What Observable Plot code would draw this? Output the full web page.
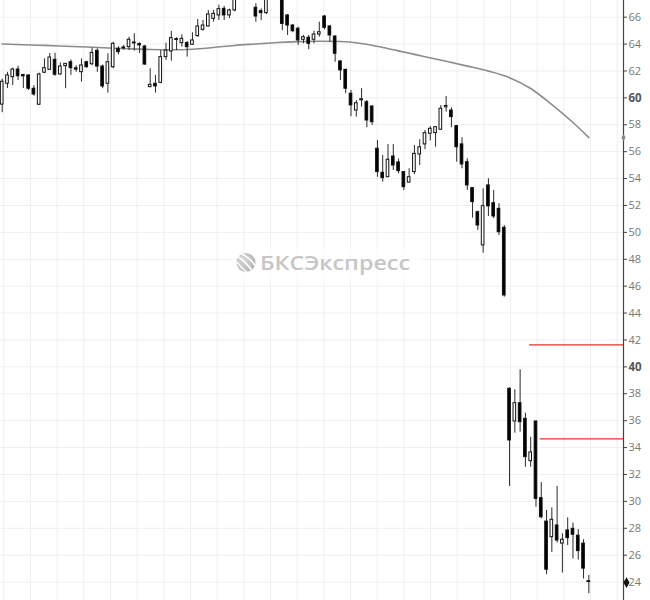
<!DOCTYPE html>
<html>
<head>
<meta charset="utf-8">
<script src="https://cdn.jsdelivr.net/npm/d3@7"></script>
<script src="https://cdn.jsdelivr.net/npm/@observablehq/plot@0.6"></script>
<style>
  html, body { margin: 0; padding: 0; background: #fff; overflow: hidden; }
  #chart svg { display: block; }
</style>
</head>
<body>
<div id="chart"></div>
<script>
// ---- Data ----
const opens = [
  59.5, 61.05, 61.54, 62.11, 61.7, 61.67, 60.68, 59.49, 61.87, 62.09,
  62.83, 61.74, 62.36, 62.65, 62.2, 61.91, 62.65, 62.5, 63.5, 62.33,
  61.05, 62.28, 63.65, 63.68, 63.77, 64.05, 64.0, 63.82, 60.8, 61.05,
  61.12, 63.03, 63.45, 64.3, 64.07, 64.07, 63.95, 64.59, 65.06, 65.31,
  65.88, 66.13, 66.62, 66.13, 66.5, 67.6, 68.2, 68.8, 66.7, 66.45,
  66.3, 67.6, 68.3, 67.8, 66.13, 65.38, 65.14, 64.32, 64.47, 64.32,
  64.71, 66.05, 65.31, 64.56, 62.71, 62.09, 60.31, 59.06, 59.82, 59.68,
  59.36, 56.22, 54.43, 54.1, 55.64, 55.2, 54.48, 53.7, 54.48, 55.79,
  56.54, 57.33, 57.38, 57.63, 59.3, 59.06, 57.9, 56.54, 55.22, 53.29,
  51.5, 49.03, 53.49, 52.17, 51.75, 50.34, 38.37, 35.94, 37.3, 36.14,
  32.99, 35.94, 30.24, 28.5, 27.34, 28.21, 26.86, 27.84, 27.96, 27.45,
  26.86, 24.0
];
const highs = [
  61.4, 61.9, 62.21, 62.36, 61.75, 61.67, 60.92, 61.84, 62.9, 63.3,
  63.32, 62.6, 62.55, 62.83, 62.4, 62.9, 62.72, 63.7, 63.65, 62.45,
  63.28, 64.14, 63.8, 63.9, 64.51, 64.77, 64.1, 63.9, 62.16, 61.67,
  63.52, 64.07, 64.94, 64.47, 64.69, 64.2, 64.84, 65.83, 65.75, 66.5,
  66.5, 66.9, 66.8, 66.6, 68.0, 68.5, 69.0, 69.2, 67.0, 66.62,
  68.0, 68.6, 68.5, 68.0, 66.2, 65.46, 65.26, 64.64, 64.64, 64.96,
  65.63, 66.13, 65.38, 64.64, 62.75, 62.1, 60.55, 59.8, 60.68, 59.8,
  59.4, 56.83, 55.72, 56.53, 56.53, 55.45, 54.5, 54.73, 56.46, 56.88,
  57.58, 57.87, 57.87, 59.43, 60.1, 59.26, 57.95, 57.03, 55.47, 53.3,
  51.58, 53.24, 53.99, 53.12, 52.13, 50.51, 38.45, 38.3, 39.78, 36.56,
  34.77, 35.96, 31.4, 29.33, 29.52, 31.11, 27.59, 28.78, 28.38, 27.9,
  27.15, 24.49
];
const lows = [
  58.9, 60.7, 60.92, 61.29, 60.7, 60.55, 60.13, 59.44, 61.8, 62.04,
  61.61, 61.7, 60.68, 61.67, 61.9, 61.17, 62.2, 62.4, 61.91, 60.68,
  60.35, 62.16, 63.2, 63.55, 63.52, 63.47, 63.3, 62.41, 60.75, 60.35,
  61.05, 62.78, 62.73, 63.52, 63.77, 63.03, 63.9, 64.51, 64.96, 65.26,
  65.63, 65.75, 65.75, 65.9, 66.4, 67.3, 67.8, 67.5, 65.63, 65.75,
  66.2, 67.4, 67.5, 65.0, 64.64, 64.84, 63.9, 64.02, 63.58, 64.02,
  64.51, 65.06, 64.14, 62.65, 61.29, 60.31, 58.6, 58.57, 59.31, 57.78,
  57.95, 54.1, 53.73, 54.1, 54.6, 54.35, 53.12, 53.68, 54.3, 54.97,
  56.14, 56.8, 56.33, 57.58, 58.94, 57.78, 55.22, 54.73, 53.12, 51.06,
  50.14, 48.45, 51.18, 51.01, 49.77, 45.18, 31.11, 35.07, 35.15, 32.54,
  32.54, 29.57, 28.7, 24.55, 26.2, 26.9, 24.67, 26.72, 25.72, 25.64,
  24.23, 23.13
];
const closes = [
  61.2, 61.67, 62.11, 61.61, 61.6, 60.68, 60.25, 61.74, 62.21, 63.0,
  61.72, 62.33, 62.53, 62.21, 62.1, 62.41, 62.28, 63.35, 62.33, 60.85,
  62.65, 64.02, 63.4, 63.72, 64.32, 64.1, 63.9, 62.48, 60.97, 60.85,
  63.03, 63.52, 64.44, 64.36, 64.39, 63.77, 64.27, 65.31, 65.38, 66.2,
  66.25, 66.6, 66.13, 66.5, 67.5, 68.2, 68.8, 68.0, 66.05, 66.3,
  67.5, 68.3, 67.9, 65.5, 65.38, 64.96, 64.27, 64.51, 64.02, 64.71,
  64.88, 65.21, 64.64, 63.28, 62.04, 60.68, 59.44, 59.6, 59.9, 58.32,
  58.19, 54.48, 54.03, 55.4, 54.97, 54.55, 53.36, 54.1, 55.84, 56.33,
  57.38, 57.7, 57.82, 59.19, 59.4, 58.57, 56.33, 55.05, 53.49, 52.25,
  50.51, 51.95, 51.93, 51.18, 50.01, 45.31, 34.53, 37.3, 35.89, 33.29,
  33.64, 30.19, 28.82, 24.92, 28.63, 27.09, 27.15, 27.27, 27.52, 26.3,
  25.0, 23.96
];

// Moving average, sampled at these candle indices
const maIndex = [0, 4, 8, 12, 16, 20, 24, 28, 32, 36, 40, 44, 48, 52, 56, 60, 64, 68, 72, 76, 80, 84, 88, 92, 96, 100, 104, 108, 111];
const maValues = [64.01, 63.95, 63.9, 63.84, 63.78, 63.71, 63.65, 63.6, 63.58, 63.62, 63.75, 63.9, 64.01, 64.12, 64.18, 64.21, 64.19, 64.04, 63.75, 63.41, 63.06, 62.72, 62.36, 61.99, 61.5, 60.7, 59.5, 58.17, 57.05];

// Horizontal red levels
const levelPrices = [41.63, 34.64];
const levelStarts = [99.8, 101.8];

// Axis tick labels
const yTicks = [24, 26, 28, 30, 32, 34, 36, 38, 40, 42, 44, 46, 48, 50, 52, 54, 56, 58, 60, 62, 64, 66];
const boldTicks = [40, 60];

// ---- Build tables ----
const candles = opens.map((o, i) => ({i, o, h: highs[i], l: lows[i], c: closes[i]}));
const ma = maIndex.map((i, k) => ({i, v: maValues[k]}));
const xMin = -0.32, xMax = 117.56;
const levels = levelPrices.map((p, k) => ({p, from: levelStarts[k], to: xMax}));
const gridX = d3.range(0, 24).map(k => (616.7 - 26.67 * k - 1.7) / 5.285).filter(v => v > xMin);
const last = candles[candles.length - 1];

const bodyTop = d => (Math.abs(d.c - d.o) < 0.07 ? d.o + 0.07 : d.c);

const chart = Plot.plot({
  width: 650,
  height: 600,
  marginLeft: 0,
  marginRight: 27,
  marginTop: 0,
  marginBottom: 0,
  style: {background: "white", fontFamily: "'Open Sans', sans-serif"},
  x: {domain: [xMin, xMax], axis: null},
  y: {domain: [22.63, 67.24], axis: null},
  marks: [
    Plot.ruleY(yTicks, {stroke: "#efefef", strokeWidth: 1}),
    Plot.ruleX(gridX, {stroke: "#efefef", strokeWidth: 1}),
    Plot.line(ma, {x: "i", y: "v", stroke: "#8c8c8c", strokeWidth: 1.6, curve: "monotone-x"}),
    Plot.ruleX(candles, {x: "i", y1: "l", y2: "h", stroke: "#2a2a2a", strokeWidth: 1, clip: true}),
    Plot.rect(candles, {
      x1: d => d.i - 0.25, x2: d => d.i + 0.25,
      y1: "o", y2: bodyTop,
      fill: d => (d.c > d.o ? "white" : "black"),
      stroke: "#111", strokeWidth: 1, clip: true
    }),
    Plot.ruleY(levels, {y: "p", x1: "from", x2: "to", stroke: "#e8302a", strokeWidth: 1.2}),
    Plot.ruleX([xMax], {stroke: "#444", strokeWidth: 1.2}),
    Plot.axisY(yTicks.filter(v => !boldTicks.includes(v)), {
      anchor: "right", tickSize: 3, tickPadding: 2, stroke: "#444", fill: "#777",
      fontSize: 11, label: null
    }),
    Plot.axisY(boldTicks, {
      anchor: "right", tickSize: 3, tickPadding: 2, stroke: "#444", fill: "#555",
      fontSize: 11.5, fontWeight: "bold", label: null
    }),
    Plot.dot([{i: xMax, v: maValues[maValues.length - 1]}], {x: "i", y: "v", symbol: "diamond", r: 2.2, fill: "#888"}),
    Plot.dot([{i: xMax, v: last.c}], {x: "i", y: "v", dx: 3, symbol: "diamond", r: 3.2, fill: "#111"})
  ]
});

document.getElementById("chart").appendChild(chart);

// ---- Watermark ----
const svg = d3.select(chart);
const defs = svg.append("defs");
const grad = defs.append("radialGradient").attr("id", "wmg").attr("cx", "35%").attr("cy", "35%").attr("r", "70%");
grad.append("stop").attr("offset", "0%").attr("stop-color", "#d8d8d8");
grad.append("stop").attr("offset", "100%").attr("stop-color", "#b4b4b4");
const wm = svg.append("g").attr("text-anchor", "start");
wm.append("rect").attr("x", 232).attr("y", 247).attr("width", 190).attr("height", 36).attr("fill", "white").attr("opacity", 0.65);
wm.append("circle").attr("cx", 246).attr("cy", 262.5).attr("r", 9.5).attr("fill", "url(#wmg)");
wm.append("path").attr("d", "M238.5,257 Q246,262 253,272").attr("stroke", "white").attr("stroke-width", 1.8).attr("fill", "none");
wm.append("path").attr("d", "M242,254 Q251,259 255.5,266").attr("stroke", "white").attr("stroke-width", 1.6).attr("fill", "none");
wm.append("path").attr("d", "M237,262 Q241,268 247,272").attr("stroke", "white").attr("stroke-width", 1.4).attr("fill", "none");
wm.append("text").attr("x", 260).attr("y", 270).attr("text-anchor", "start")
  .attr("font-family", "'Open Sans', sans-serif").attr("font-size", 19).attr("font-weight", 600)
  .attr("fill", "#c6c6c6").attr("textLength", 150).attr("lengthAdjust", "spacingAndGlyphs")
  .text("БКСЭкспресс");
</script>
</body>
</html>
